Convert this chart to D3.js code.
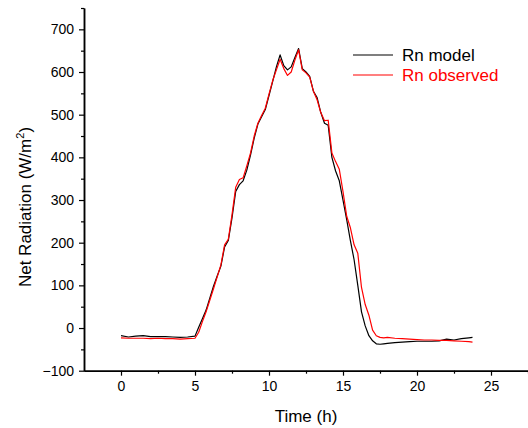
<!DOCTYPE html>
<html>
<head>
<meta charset="utf-8">
<script src="https://cdn.jsdelivr.net/npm/d3@7/dist/d3.min.js"></script>
<style>
  html, body { margin: 0; padding: 0; background: #fff; }
  svg { display: block; font-family: Arial, "Liberation Sans", sans-serif; }
</style>
</head>
<body>
<svg id="chart" width="528" height="428"></svg>
<script>
// ---- data ----
const times = [0,0.5,1,1.5,2,2.5,3,3.5,4,4.5,
  5,5.25,5.5,5.75,6,6.25,6.5,6.75,7,7.25,7.5,7.75,8,8.25,8.5,8.75,
  9,9.25,9.5,9.75,10,10.25,10.5,10.75,11,11.25,11.5,11.75,12,12.25,12.5,12.75,
  13,13.25,13.5,13.75,14,14.25,14.5,14.75,15,15.25,15.5,15.75,16,16.25,16.5,16.75,
  17,17.25,17.5,17.75,18,
  18.5,19,19.5,20,20.5,21,21.5,22,22.5,23,23.5,23.75];

const rnModel = [-18,-21,-19,-18,-20,-20,-20,-21,-22,-21,
  -19,2,22,42, 70,98,122,145, 190,205,258,320, 336,345,370,405,
  445,478,495,512, 545,578,612,640, 615,605,612,634, 655,608,600,590,
  555,540,505,480, 475,400,368,345, 300,254,205,160, 100,38,5,-18,
  -30,-37,-38,-37, -36,
  -34,-33,-32,-31,-31,-31,-30,-26,-28,-25,-23,-22];

const rnObserved = [-23,-24,-24,-24,-25,-24,-25,-25,-26,-25,
  -24,-10,15,38, 65,92,120,148, 195,208,265,330, 348,352,380,410,
  450,480,498,515, 548,580,605,630, 608,592,600,628, 652,605,598,588,
  555,535,505,486, 487,410,390,372, 320,262,235,195, 175,95,55,30,
  -5,-18,-22,-23, -22,
  -24,-25,-26,-27,-28,-28,-29,-29,-30,-31,-32,-33];

const xMajorTicks = [0,5,10,15,20,25];
const xMinorTicks = [2.5,7.5,12.5,17.5,22.5,27.5];
const yMajorTicks = [-100,0,100,200,300,400,500,600,700];
const yMinorTicks = [-50,50,150,250,350,450,550,650,750];

const seriesNames = ["Rn model", "Rn observed"];
const seriesColors = ["#000000", "#ff0000"];

// ---- chart ----
const svg = d3.select("#chart");
const x = d3.scaleLinear().domain([-2.5, 27.5]).range([84, 528]);
const y = d3.scaleLinear().domain([-100, 750]).range([370.7, 8]);

// lines
const line = d3.line().x((d, i) => x(times[i])).y(d => y(d));
[rnModel, rnObserved].forEach((s, k) => {
  svg.append("path")
    .datum(s)
    .attr("fill", "none")
    .attr("stroke", seriesColors[k])
    .attr("stroke-width", 1.2)
    .attr("stroke-linejoin", "round")
    .attr("d", line);
});

// axes
const xAxis = svg.append("g").attr("transform", `translate(0,${y(-100)})`);
xAxis.call(d3.axisBottom(x).tickValues(xMajorTicks).tickSize(5).tickSizeOuter(0).tickPadding(5).tickFormat(d3.format("d")));
const xMinor = svg.append("g").attr("transform", `translate(0,${y(-100)})`);
xMinor.call(d3.axisBottom(x).tickValues(xMinorTicks).tickSize(3).tickSizeOuter(0).tickFormat(""));

const yAxis = svg.append("g").attr("transform", `translate(${x(-2.5)},0)`);
yAxis.call(d3.axisLeft(y).tickValues(yMajorTicks).tickSize(5).tickSizeOuter(0).tickPadding(5).tickFormat(d3.format("d")));
const yMinor = svg.append("g").attr("transform", `translate(${x(-2.5)},0)`);
yMinor.call(d3.axisLeft(y).tickValues(yMinorTicks).tickSize(3).tickSizeOuter(0).tickFormat(""));

svg.selectAll(".domain").attr("stroke", "#000").attr("stroke-width", 1.5);
svg.selectAll(".tick line").attr("stroke", "#000").attr("stroke-width", 1.2);
svg.selectAll(".tick text")
  .attr("font-family", "Arial, 'Liberation Sans', sans-serif")
  .attr("font-size", 14)
  .attr("fill", "#000");

// axis titles
svg.append("text")
  .attr("x", 306).attr("y", 422)
  .attr("text-anchor", "middle")
  .attr("font-size", 17)
  .text("Time (h)");

const yt = svg.append("text")
  .attr("text-anchor", "start")
  .attr("font-size", 17);
yt.append("tspan").text("Net Radiation (W/m");
yt.append("tspan").attr("font-size", 11).attr("dy", -7).text("2");
yt.append("tspan").attr("dy", 7).text(")");
const ytw = yt.node().getComputedTextLength();
yt.attr("transform", `translate(31,${207 + ytw / 2}) rotate(-90)`);

// legend
seriesNames.forEach((name, k) => {
  const ly = 55 + k * 20;
  svg.append("line")
    .attr("x1", 353).attr("x2", 393)
    .attr("y1", ly).attr("y2", ly)
    .attr("stroke", seriesColors[k]).attr("stroke-width", 1.2);
  svg.append("text")
    .attr("x", 402).attr("y", ly + 6)
    .attr("font-size", 17)
    .attr("fill", seriesColors[k])
    .text(name);
});
</script>
</body>
</html>
